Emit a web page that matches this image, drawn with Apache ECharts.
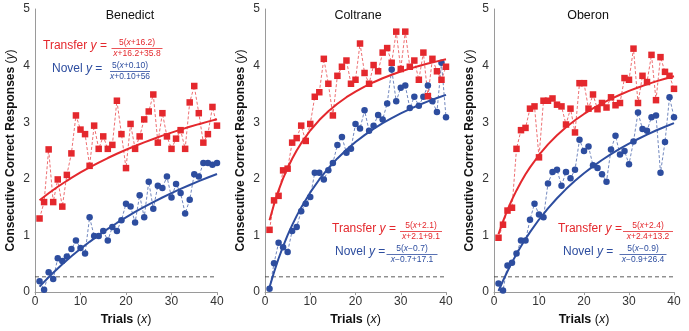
<!DOCTYPE html>
<html>
<head>
<meta charset="utf-8">
<script src="https://cdn.jsdelivr.net/npm/echarts@6/dist/echarts.min.js"></script>
<style>
html,body{margin:0;padding:0;background:#fff;}
#chart{width:689px;height:331px;}
</style>
</head>
<body>
<div id="chart"></div>
<script>
// ---------------- data ----------------
const panelNames = ['Benedict', 'Coltrane', 'Oberon'];
const xTicks = [0, 10, 20, 30, 40];
const yTicks = [0, 1, 2, 3, 4, 5];
const chanceLevel = 0.27;

// trial-by-trial values (trials 1..40)
const benedictTransfer = [1.30,1.59,2.52,1.59,1.99,1.51,2.07,2.45,3.12,2.87,2.79,2.23,2.94,2.53,2.75,2.53,2.60,3.38,2.79,2.19,2.97,2.53,2.75,3.05,3.19,3.49,2.64,3.16,2.75,2.53,2.71,2.86,2.53,3.35,3.64,3.16,2.64,2.79,3.27,2.94];
const benedictNovel    = [0.19,0.04,0.35,0.23,0.60,0.55,0.63,0.76,0.91,0.78,0.68,1.32,0.99,0.99,1.08,0.91,1.15,1.08,1.27,1.56,1.51,1.23,1.71,1.32,1.95,1.47,1.88,1.84,2.04,1.67,1.91,1.75,1.39,1.63,2.08,2.04,2.28,2.28,2.25,2.28];
const coltraneTransfer = [1.10,1.62,1.70,2.15,2.18,2.64,2.72,2.94,2.67,2.97,3.45,3.53,4.12,3.68,3.12,3.82,3.98,4.09,3.68,3.75,4.39,3.87,3.68,4.01,3.90,4.23,4.31,4.05,4.60,3.94,4.60,3.98,4.09,3.75,4.23,3.46,4.12,3.90,3.75,3.98];
const coltraneNovel    = [0.06,0.51,0.87,0.79,0.71,1.08,1.15,1.43,1.56,1.68,2.11,2.11,1.99,2.15,2.28,2.60,2.74,2.46,2.53,2.97,2.89,3.21,2.85,2.94,3.13,3.05,3.33,3.93,3.37,3.61,3.65,3.25,3.45,3.29,3.45,3.65,3.37,3.18,4.05,3.09];
const oberonTransfer   = [0.96,1.19,1.44,1.49,2.53,2.86,2.90,3.24,3.28,2.38,3.38,3.38,3.42,3.31,3.28,2.96,3.24,2.82,3.69,3.69,3.24,3.49,3.23,3.34,3.26,3.44,3.30,3.34,3.78,3.75,4.30,3.34,3.82,3.71,4.19,3.39,4.15,3.89,3.82,3.59];
const oberonNovel      = [0.15,0.03,0.47,0.52,0.68,0.91,0.91,1.28,1.56,1.37,1.32,1.92,2.12,2.16,1.88,2.12,2.01,2.16,2.69,2.49,2.57,2.24,2.19,2.08,1.95,2.52,2.76,2.43,2.49,2.26,2.66,3.17,2.88,2.85,3.09,3.12,2.11,2.65,3.44,3.09];

// fitted curves read at these trials
const fitTrials = [1,2,3,4,5,6,7,8,10,12,14,16,18,20,22,24,26,28,30,32,34,36,38,40];
const benedictTransferFit = [1.623,1.685,1.745,1.804,1.860,1.914,1.966,2.017,2.113,2.203,2.288,2.368,2.443,2.514,2.581,2.645,2.705,2.763,2.817,2.869,2.919,2.966,3.011,3.054];
const benedictNovelFit    = [0.096,0.181,0.262,0.341,0.417,0.491,0.563,0.632,0.764,0.888,1.006,1.117,1.221,1.321,1.415,1.504,1.589,1.671,1.748,1.822,1.892,1.960,2.024,2.086];
const coltraneTransferFit = [1.270,1.553,1.796,2.007,2.191,2.355,2.500,2.630,2.854,3.039,3.194,3.327,3.442,3.542,3.630,3.707,3.777,3.839,3.896,3.947,3.993,4.036,4.075,4.111];
const coltraneNovelFit    = [0.086,0.353,0.593,0.809,1.005,1.183,1.346,1.496,1.761,1.989,2.188,2.361,2.515,2.651,2.773,2.884,2.983,3.074,3.157,3.233,3.304,3.368,3.428,3.484];
const oberonTransferFit   = [1.024,1.250,1.452,1.633,1.796,1.944,2.080,2.203,2.422,2.609,2.770,2.911,3.036,3.146,3.245,3.333,3.413,3.486,3.553,3.613,3.669,3.721,3.769,3.813];
const oberonNovelFit      = [0.019,0.200,0.368,0.525,0.672,0.810,0.938,1.060,1.282,1.480,1.658,1.819,1.966,2.099,2.221,2.333,2.437,2.533,2.622,2.704,2.782,2.854,2.921,2.985];

// equation texts
const transferNum = ['5(x+16.2)', '5(x+2.1)', '5(x+2.4)'];
const transferDen = ['x+16.2+35.8', 'x+2.1+9.1', 'x+2.4+13.2'];
const novelNum = ['5(x+0.10)', '5(x\u22120.7)', '5(x\u22120.9)'];
const novelDen = ['x+0.10+56', 'x\u22120.7+17.1', 'x\u22120.9+26.4'];

// ---------------- styling / layout ----------------
const RED = '#e4282d';
const BLUE = '#2d4d9f';
const FONT = 'Liberation Sans, Arial, sans-serif';
const grids = [
  {left: 35, top: 9, width: 182, height: 284},
  {left: 265, top: 9, width: 181, height: 284},
  {left: 494, top: 9, width: 180, height: 284}
];
const titleX = [130, 358, 588];
const eqLayout = [
  {t: {x: 43, y: 48, fx: 137, fw: 51}, n: {x: 52, y: 71, fx: 130, fw: 40}},
  {t: {x: 332, y: 231, fx: 421, fw: 42}, n: {x: 335, y: 254, fx: 412, fw: 51}},
  {t: {x: 558, y: 231, fx: 648, fw: 50}, n: {x: 563, y: 254, fx: 643, fw: 47}}
];

const seriesData = [
  [benedictTransfer, benedictNovel, benedictTransferFit, benedictNovelFit],
  [coltraneTransfer, coltraneNovel, coltraneTransferFit, coltraneNovelFit],
  [oberonTransfer, oberonNovel, oberonTransferFit, oberonNovelFit]
];

const pairs = (arr) => arr.map((v, i) => [i + 1, v]);
const fitPairs = (arr) => arr.map((v, i) => [fitTrials[i], v]);

const grid = [], xAxis = [], yAxis = [], series = [], graphic = [];

function mathRich(str, color, size) {
  const parts = str.split('x');
  let out = '';
  parts.forEach((p, i) => {
    if (i > 0) out += '{i|x}';
    if (p) out += '{n|' + p + '}';
  });
  return {
    text: out,
    rich: {
      n: {fontSize: size, fontFamily: FONT, fill: color},
      i: {fontSize: size, fontFamily: FONT, fontStyle: 'italic', fill: color}
    }
  };
}

function equation(label, color, L, num, den) {
  graphic.push({
    type: 'text', left: L.x, top: L.y - 8, z: 50,
    style: {
      text: '{a|' + label + ' }{i|y}{a| =}',
      rich: {
        a: {fontSize: 12, fontFamily: FONT, fill: color},
        i: {fontSize: 12, fontFamily: FONT, fontStyle: 'italic', fill: color}
      },
      fill: color
    }
  });
  const nr = mathRich(num, color, 8.5);
  graphic.push({type: 'text', x: L.fx, y: L.y - 5, z: 50,
    style: {text: nr.text, rich: nr.rich, align: 'center', verticalAlign: 'middle', fill: color}});
  graphic.push({type: 'line', z: 50,
    shape: {x1: L.fx - L.fw / 2, y1: L.y + 0.5, x2: L.fx + L.fw / 2, y2: L.y + 0.5},
    style: {stroke: color, lineWidth: 0.8}});
  const dr = mathRich(den, color, 8.5);
  graphic.push({type: 'text', x: L.fx, y: L.y + 6, z: 50,
    style: {text: dr.text, rich: dr.rich, align: 'center', verticalAlign: 'middle', fill: color}});
}

for (let p = 0; p < 3; p++) {
  grid.push(grids[p]);
  xAxis.push({
    type: 'value', gridIndex: p, min: xTicks[0], max: xTicks[xTicks.length - 1], interval: 10,
    name: '{b|Trials }{n|(}{i|x}{n|)}', nameLocation: 'middle', nameGap: 20,
    nameTextStyle: {
      rich: {
        b: {fontSize: 12.5, fontWeight: 'bold', fontFamily: FONT, color: '#111'},
        n: {fontSize: 12.5, fontFamily: FONT, color: '#111'},
        i: {fontSize: 12.5, fontStyle: 'italic', fontFamily: FONT, color: '#111'}
      }
    },
    axisLine: {show: true, lineStyle: {color: '#9a9a9a', width: 1}},
    axisTick: {show: true, length: 3, lineStyle: {color: '#9a9a9a'}},
    axisLabel: {fontSize: 12, color: '#333', fontFamily: FONT, margin: 4},
    splitLine: {show: false}
  });
  yAxis.push({
    type: 'value', gridIndex: p, min: yTicks[0], max: yTicks[yTicks.length - 1], interval: 1,
    name: '{b|Consecutive Correct Responses }{n|(}{i|y}{n|)}', nameLocation: 'middle', nameGap: 18,
    nameTextStyle: {
      rich: {
        b: {fontSize: 12, fontWeight: 'bold', fontFamily: FONT, color: '#111'},
        n: {fontSize: 12, fontFamily: FONT, color: '#111'},
        i: {fontSize: 12, fontStyle: 'italic', fontFamily: FONT, color: '#111'}
      }
    },
    axisLine: {show: true, lineStyle: {color: '#9a9a9a', width: 1}},
    axisTick: {show: false},
    axisLabel: {fontSize: 12, color: '#333', fontFamily: FONT, margin: 5},
    splitLine: {show: false}
  });
  const [tr, nv, trFit, nvFit] = seriesData[p];
  series.push({
    type: 'line', xAxisIndex: p, yAxisIndex: p, symbol: 'none', silent: true, z: 1,
    data: [[xTicks[0], chanceLevel], [xTicks[xTicks.length - 1], chanceLevel]],
    lineStyle: {color: '#333', width: 0.8, type: [4, 3]}
  });
  series.push({
    type: 'line', xAxisIndex: p, yAxisIndex: p, data: pairs(nv), z: 3,
    symbol: 'circle', symbolSize: 6.5,
    itemStyle: {color: BLUE},
    lineStyle: {color: BLUE, width: 0.8, type: [3, 2], opacity: 0.85}
  });
  series.push({
    type: 'line', xAxisIndex: p, yAxisIndex: p, data: pairs(tr), z: 3,
    symbol: 'rect', symbolSize: 6.5,
    itemStyle: {color: RED},
    lineStyle: {color: RED, width: 0.8, type: [3, 2], opacity: 0.85}
  });
  series.push({
    type: 'line', xAxisIndex: p, yAxisIndex: p, data: fitPairs(nvFit), z: 4,
    symbol: 'none', smooth: false,
    lineStyle: {color: BLUE, width: 2}
  });
  series.push({
    type: 'line', xAxisIndex: p, yAxisIndex: p, data: fitPairs(trFit), z: 4,
    symbol: 'none', smooth: false,
    lineStyle: {color: RED, width: 2}
  });
  graphic.push({
    type: 'text', x: titleX[p], y: 16,
    style: {text: panelNames[p], fontSize: 12.5, fontFamily: FONT, fill: '#111', align: 'center', verticalAlign: 'middle'}
  });
  equation('Transfer', RED, eqLayout[p].t, transferNum[p], transferDen[p]);
  equation('Novel', BLUE, eqLayout[p].n, novelNum[p], novelDen[p]);
}

const chart = echarts.init(document.getElementById('chart'), null, {renderer: 'canvas'});
chart.setOption({
  animation: false,
  backgroundColor: '#fff',
  grid, xAxis, yAxis, series, graphic
});
</script>
</body>
</html>
